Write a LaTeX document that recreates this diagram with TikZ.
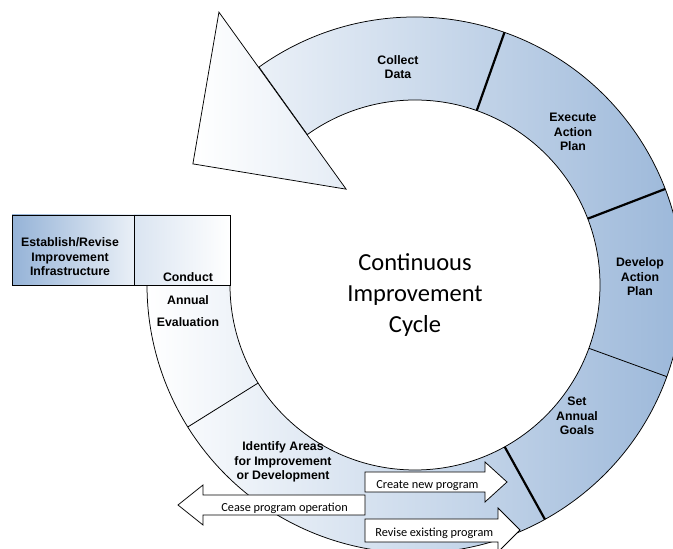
\documentclass[tikz,border=0pt]{standalone}
\usepackage{fontspec}
\setmainfont{Liberation Sans}
\newfontfamily\cyclefont{Carlito}
\usetikzlibrary{calc}
\definecolor{cycleblue}{RGB}{149,179,215}
\tikzset{
  stage/.style={font=\fontsize{12.3}{14.5}\selectfont\bfseries, align=center, inner sep=0pt},
  note/.style={font=\cyclefont\fontsize{12.3}{14}\selectfont, inner sep=0pt, anchor=base west},
  arrowbox/.style={draw, fill=white},
}
\begin{document}
\begin{tikzpicture}[x=1pt,y=1pt,line width=0.75pt]
  \useasboundingbox (0,0) rectangle (673,549);
  \coordinate (C) at (415,264);
  % ring
  \draw[left color=white, right color=cycleblue]
    ($(C)+(125.6:268)$) arc[start angle=125.6, end angle=-180, radius=268]
    -- ($(C)+(180:185)$) arc[start angle=-180, end angle=125.6, radius=185] -- cycle;
  % dividers
  \foreach \a/\w in {70.5/2.2, 21/2.2, -20/0.8, -61/2.2, -148/0.8}
    \draw[line width=\w pt] ($(C)+(\a:185)$) -- ($(C)+(\a:268)$);
  % arrow head of the cycle
  \draw[left color=white, right color=cycleblue!25]
    ($(C)+(125.7:336)$) -- ($(C)+(151.4:253)$) -- ($(C)+(125.7:118)$) -- cycle;
  % boxes
  \draw[left color=cycleblue, right color=cycleblue!20] (12,264) rectangle (134,334);
  \draw[left color=cycleblue!35, right color=white] (134,264) rectangle (230,334);
  % program arrows
  \draw[arrowbox] (365,57) -- (485,57) -- (485,47) -- (507,67) -- (485,87) -- (485,77) -- (365,77) -- cycle;
  \draw[arrowbox] (365,54) -- (203,54) -- (203,64) -- (178,44) -- (203,24) -- (203,34) -- (365,34) -- cycle;
  \draw[arrowbox] (365,30) -- (498,30) -- (498,41) -- (520,19) -- (498,-3) -- (498,7) -- (365,7) -- cycle;
  % labels
  \node[stage] (collect) at (398,482) {Collect\\Data};
  \node[stage] (execute) at (573,417) {Execute\\Action\\Plan};
  \node[stage] (develop) at (640,272) {Develop\\Action\\Plan};
  \node[stage] (goals) at (577,133) {Set\\Annual\\Goals};
  \node[stage] (identify) at (283,87) {Identify Areas\\for Improvement\\or Development};
  \node[stage] (conduct) at (188,272) {Conduct};
  \node[stage, font=\fontsize{12.3}{22}\selectfont\bfseries] (evaluation) at (188,238) {Annual\\Evaluation};
  \node[stage] (establish) at (70,292) {Establish/Revise\\Improvement\\Infrastructure};
  \node[align=center, inner sep=0pt, font=\cyclefont\fontsize{24.5}{31}\selectfont] (cycle) at (415,254)
    {Continuous\\Improvement\\Cycle};
  \node[note] (create) at (376,60) {Create new program};
  \node[note] (cease) at (221,37) {Cease program operation};
  \node[note] (revise) at (375,12) {Revise existing program};
\end{tikzpicture}
\end{document}
